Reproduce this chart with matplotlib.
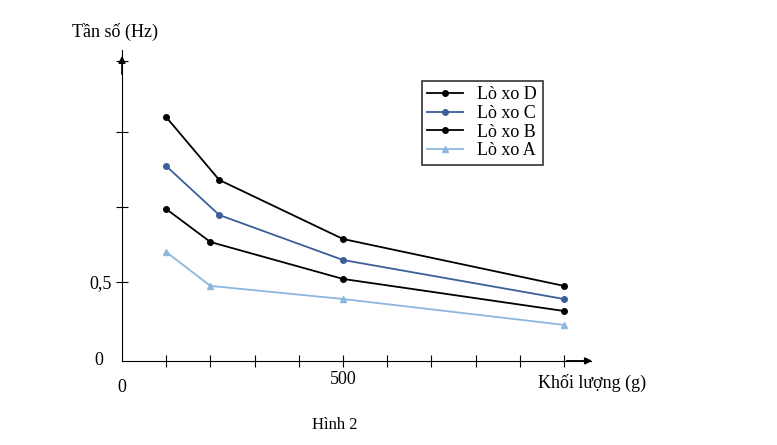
import matplotlib
matplotlib.use("Agg")
import matplotlib.pyplot as plt

plt.rcParams['font.family'] = ['Liberation Serif', 'DejaVu Serif']

mass = [100, 200, 500, 1000]
series = {
    "Lò xo D": [1.544, 1.146, 0.772, 0.475],
    "Lò xo C": [1.234, 0.924, 0.639, 0.392],
    "Lò xo B": [0.962, 0.753, 0.519, 0.316],
    "Lò xo A": [0.690, 0.475, 0.392, 0.228],
}
mass_D = [100, 220, 500, 1000]
colors = {"Lò xo D": "black", "Lò xo C": "#3b5f98", "Lò xo B": "black", "Lò xo A": "#8db7de"}
markers = {"Lò xo D": "o", "Lò xo C": "o", "Lò xo B": "o", "Lò xo A": "^"}

fig = plt.figure(figsize=(7.77, 4.45), dpi=100)
ax = fig.add_axes([0.157, 0.189, 0.603, 0.699])
for name, vals in series.items():
    xs = mass_D if name in ("Lò xo D", "Lò xo C") else mass
    ax.plot(xs, vals, color=colors[name], marker=markers[name], markersize=4, lw=1.3, label=name)

ax.set_xlim(0, 1060)
ax.set_ylim(0, 1.97)
for s in ["top", "right"]:
    ax.spines[s].set_visible(False)
ax.annotate("", xy=(1070, 0), xytext=(1000, 0), arrowprops=dict(arrowstyle="-|>", color="black", lw=1.2),
            annotation_clip=False)
ax.annotate("", xy=(0, 1.95), xytext=(0, 1.8), arrowprops=dict(arrowstyle="-|>", color="black", lw=1.2),
            annotation_clip=False)
ax.set_xticks(range(100, 1100, 100))
ax.set_xticklabels([""] * 4 + ["500"] + [""] * 5, fontsize=13)
ax.set_yticks([0.5, 0.975, 1.45, 1.9])
ax.set_yticklabels(["0,5", "", "", ""], fontsize=13)
ax.tick_params(axis="x", direction="inout", length=8)
ax.tick_params(axis="y", direction="inout", length=8)
ax.text(0, -0.17, "0", ha="center", va="center", fontsize=13)
ax.text(-0.04, 0, "0", transform=ax.get_yaxis_transform(), ha="right", va="center", fontsize=13)
fig.text(0.148, 0.928, "Tần số (Hz)", ha="center", va="center", fontsize=13)
fig.text(0.762, 0.139, "Khối lượng (g)", ha="center", va="center", fontsize=13)
fig.text(0.431, 0.045, "Hình 2", ha="center", va="center", fontsize=12)
leg = ax.legend(loc="upper left", bbox_to_anchor=(0.62, 0.93), fontsize=13, frameon=True,
                fancybox=False, edgecolor="black", handlelength=2, borderpad=0.3, labelspacing=0.1)
leg.get_frame().set_linewidth(1.2)
fig.savefig("out.png")
